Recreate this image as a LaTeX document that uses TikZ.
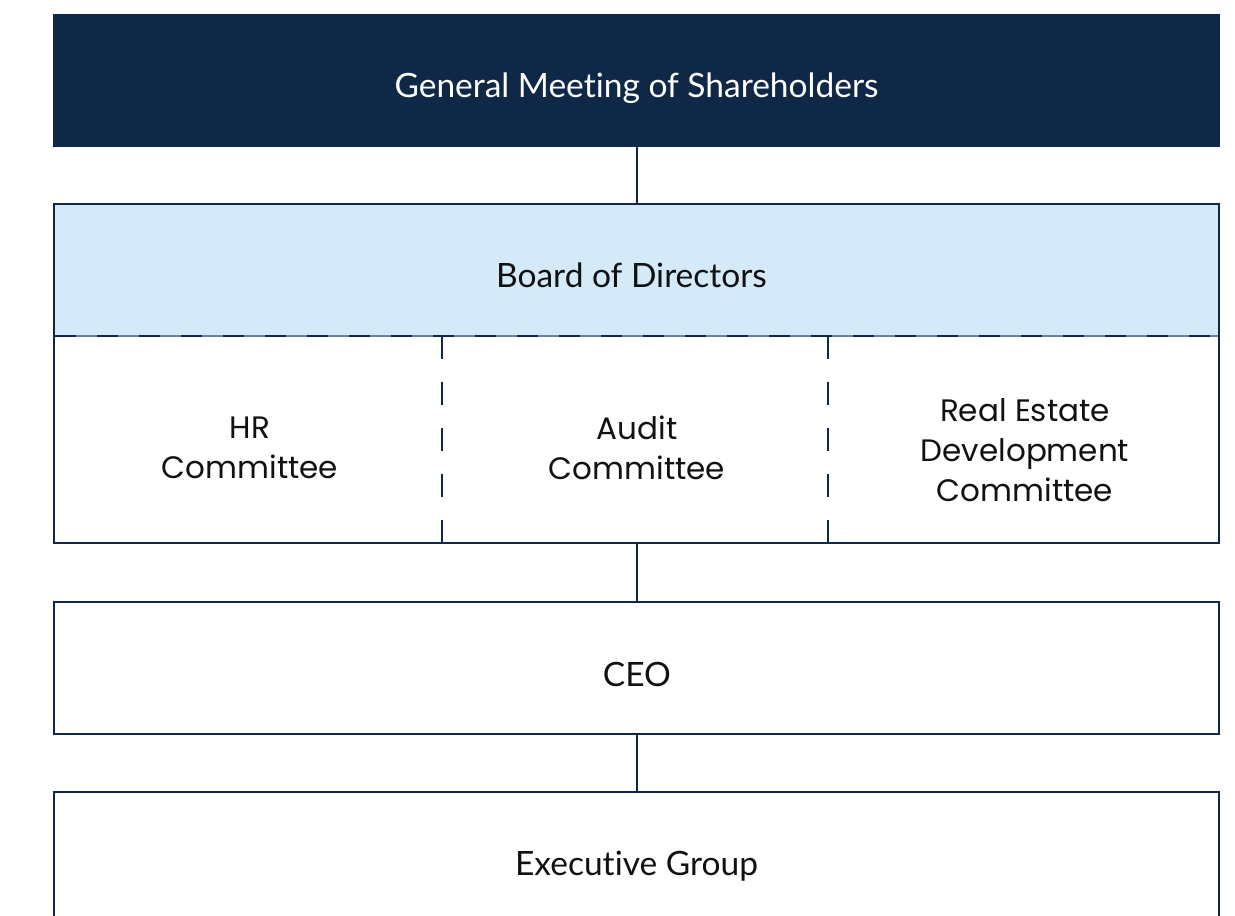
\documentclass[tikz,border=0pt]{standalone}
\usepackage{fontspec}
\setmainfont{Lato}[Ligatures=NoCommon]
\newfontfamily\cmtfont{Poppins}
\definecolor{navy}{HTML}{0F2847}
\definecolor{boardblue}{HTML}{D4EAF9}
\definecolor{dashgrey}{HTML}{6F819A}
\definecolor{inktext}{HTML}{111111}
\tikzset{
  frame/.style={draw=navy, line width=2.8pt},
  link/.style={draw=navy, line width=2.2pt},
  title/.style={anchor=base, font=\fontsize{33.5}{38}\selectfont, text=inktext, inner sep=0pt},
  cmt/.style={anchor=center, align=center, font=\cmtfont\fontsize{31}{40}\selectfont, text=inktext, inner sep=0pt},
}
\begin{document}
\begin{tikzpicture}[x=1pt,y=-1pt]
  \useasboundingbox (0,0) rectangle (1235,916);
  \clip (0,0) rectangle (1235,916);

  % shareholders' meeting
  \fill[navy] (53,14) rectangle (1220,147);
  \node[title, text=white] (gm) at (636.5,97) {General Meeting of Shareholders};
  \coordinate (gmB) at (637,147);

  % board of directors with its committees
  \fill[boardblue] (54,204) rectangle (1219,336);
  \coordinate (bdT) at (637,204);
  \coordinate (bdB) at (637,543);
  \node[title] (bd) at (631.5,287) {Board of Directors};
  \draw[dashgrey, line width=1.4pt] (54,336) -- (1219,336);
  \draw[navy, line width=2.4pt, dash pattern=on 21pt off 21pt, dash phase=-1pt] (54,336) -- (1219,336);
  \draw[navy, line width=1.8pt, dash pattern=on 23pt off 23pt] (442,336) -- (442,543);
  \draw[navy, line width=1.8pt, dash pattern=on 23pt off 23pt] (828,336) -- (828,543);
  \draw[frame] (54,204) rectangle (1219,543);

  \node[cmt] (hr) at (250,448) {HR\\Committee};
  \node[cmt] (audit) at (637,448) {Audit\\Committee};
  \node[cmt] (re) at (1025,450) {Real Estate\\Development\\Committee};

  % CEO
  \draw[frame] (54,602) rectangle (1219,734);
  \coordinate (ceoT) at (637,602);
  \coordinate (ceoB) at (637,734);
  \node[title] (ceo) at (637,686) {CEO};

  % executive group
  \draw[frame] (54,792) rectangle (1219,1000);
  \coordinate (exT) at (637,792);
  \node[title] (ex) at (636.5,875) {Executive Group};

  % connectors
  \draw[link] (gmB) -- (bdT);
  \draw[link] (bdB) -- (ceoT);
  \draw[link] (ceoB) -- (exT);
\end{tikzpicture}
\end{document}
